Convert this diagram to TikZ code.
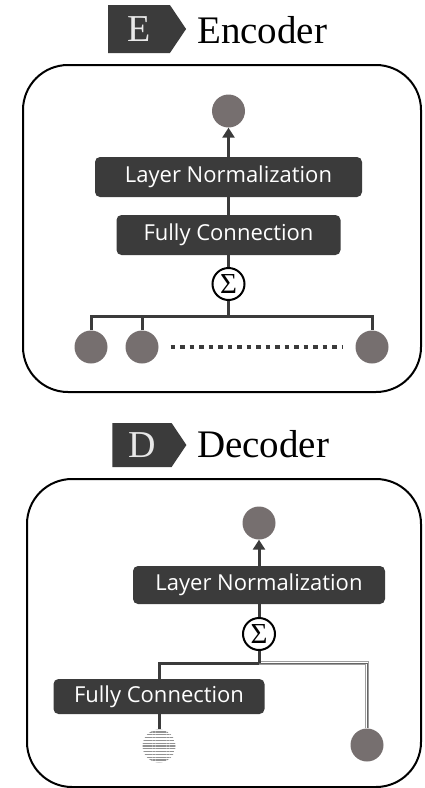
\documentclass[tikz,border=0pt]{standalone}
\usepackage{fontspec}
\newfontfamily\labelfont{Open Sans}
\newfontfamily\titlefont{Liberation Serif}
\usetikzlibrary{arrows.meta, shapes.symbols, patterns.meta}

\definecolor{boxdark}{RGB}{59,59,59}
\definecolor{unitgray}{RGB}{118,111,111}
\definecolor{tagtext}{RGB}{232,232,232}

\tikzset{
    layerbox/.style={fill=boxdark, rounded corners=5pt, text=white, inner sep=0pt,
        font=\labelfont\fontsize{22}{26}\selectfont},
    unit/.style={circle, fill=unitgray, minimum size=33pt, inner sep=0pt},
    sumnode/.style={circle, draw=black, line width=2pt, fill=white, minimum size=32pt,
        inner sep=0pt, font=\titlefont\fontsize{29}{30}\selectfont},
    conn/.style={draw=boxdark, line width=3pt},
    tagbox/.style={signal, signal to=east, signal pointer angle=112, fill=boxdark,
        text=tagtext, inner sep=0pt, font=\titlefont\fontsize{38}{42}\selectfont},
    titletext/.style={anchor=base west, inner sep=0pt, font=\titlefont\fontsize{39}{42}\selectfont},
    frame/.style={draw=black, line width=2pt, rounded corners=45pt},
    dotrow/.style={draw=boxdark, line width=4pt, dash pattern=on 4.5pt off 5pt},
    skipouter/.style={draw=gray!75, double=white, double distance=2.6pt, line width=1pt},
    skipcore/.style={draw=gray!80!black, line width=0.9pt},
}

\begin{document}
\begin{tikzpicture}[x=1pt, y=-1pt]
    \useasboundingbox (0,0) rectangle (424,788);

    % encoder
    \node[tagbox, minimum width=78pt, minimum height=48pt] (etag) at (139,29) {E};
    \node[titletext] (etitle) at (197,43) {Encoder};
    \draw[frame] (23,65) rectangle (421,392);

    \node[unit] (eout) at (228.5,111) {};
    \node[layerbox, minimum width=267pt, minimum height=40pt] (eln) at (228.5,177) {Layer Normalization};
    \node[layerbox, minimum width=224pt, minimum height=40pt] (efc) at (228.5,235) {Fully Connection};
    \node[sumnode] (esum) at (228.5,284) {Σ};
    \node[unit] (ein1) at (91,347) {};
    \node[unit] (ein2) at (142,347) {};
    \node[unit] (ein3) at (372,347) {};
    \coordinate (ebar) at (228.5,316);

    \draw[conn, -{Triangle[length=10pt, width=12pt]}] (eln) -- (eout);
    \draw[conn] (efc) -- (eln);
    \draw[conn] (esum) -- (efc);
    \draw[conn] (esum) -- (ebar);
    \draw[conn] (ein1) |- (ebar) -| (ein3);
    \draw[conn] (ein2) -- (ein2 |- ebar);
    \draw[dotrow] ([xshift=12pt]ein2.east) -- ([xshift=-12pt]ein3.west);

    % decoder
    \node[tagbox, minimum width=74pt, minimum height=44pt] (dtag) at (142,445) {D};
    \node[titletext] (dtitle) at (197,457) {Decoder};
    \draw[frame] (27,479) rectangle (421,787);

    \node[unit] (dout) at (259,523) {};
    \node[layerbox, minimum width=252pt, minimum height=38pt] (dln) at (259,585) {Layer Normalization};
    \node[sumnode] (dsum) at (259,634) {Σ};
    \node[layerbox, minimum width=211pt, minimum height=35pt] (dfc) at (159,696.5) {Fully Connection};
    \node[unit, fill=none, pattern={Lines[angle=0, distance=2.8pt, line width=1.2pt]},
        pattern color=gray!85] (dprev) at (159,746) {};
    \node[unit] (dskip) at (367,745) {};
    \coordinate (dbar) at (259,663);

    \draw[conn, -{Triangle[length=10pt, width=12pt]}] (dln) -- (dout);
    \draw[conn] (dsum) -- (dln);
    \draw[skipouter] (dbar) -| (dskip);
    \draw[skipcore] (dbar) -| (dskip);
    \draw[conn] (dsum) -- (dbar);
    \draw[conn] (dbar) -| (dfc);
    \draw[conn] (dprev) -- (dfc);
\end{tikzpicture}
\end{document}
